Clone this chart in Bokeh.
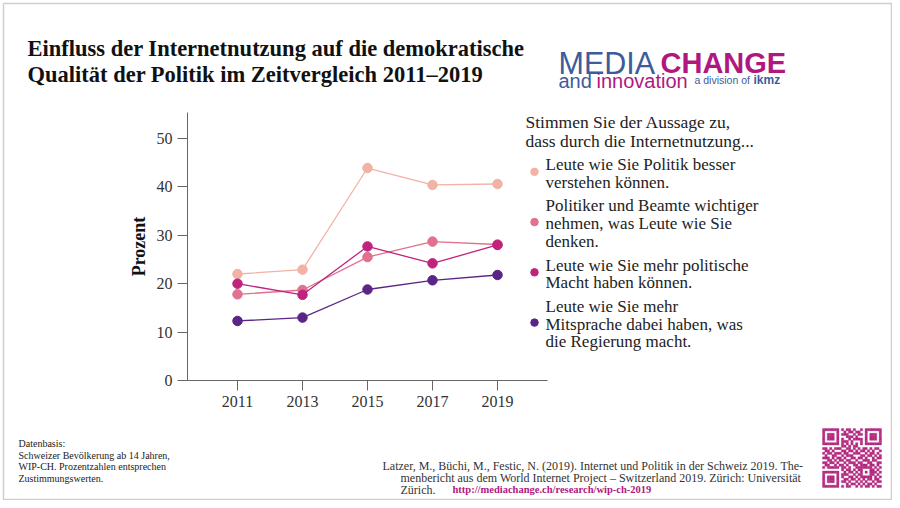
from bokeh.plotting import figure
from bokeh.models import Range1d, LinearAxis, FixedTicker, Label
from bokeh.embed import file_html
from bokeh.resources import INLINE

# ---------------- data ----------------
years = [2011, 2013, 2015, 2017, 2019]
verstehen = [22.0, 22.9, 43.9, 40.4, 40.6]
wichtiger_nehmen = [17.8, 18.7, 25.5, 28.7, 28.1]
mehr_macht = [20.0, 17.7, 27.7, 24.2, 28.0]
mehr_mitsprache = [12.3, 13.0, 18.8, 20.7, 21.8]
y_ticks = [0, 10, 20, 30, 40, 50]

series_values = [verstehen, wichtiger_nehmen, mehr_macht, mehr_mitsprache]
series_labels = [
    ["Leute wie Sie Politik besser", "verstehen können."],
    ["Politiker und Beamte wichtiger", "nehmen, was Leute wie Sie", "denken."],
    ["Leute wie Sie mehr politische", "Macht haben können."],
    ["Leute wie Sie mehr", "Mitsprache dabei haben, was", "die Regierung macht."],
]
series_colors = ["#f2b3a6", "#e2708f", "#c0237d", "#5b2587"]

title_lines = ["Einfluss der Internetnutzung auf die demokratische",
               "Qualität der Politik im Zeitvergleich 2011\u20132019"]
legend_title = ["Stimmen Sie der Aussage zu,", "dass durch die Internetnutzung..."]
source_left = ["Datenbasis:", "Schweizer Bevölkerung ab 14 Jahren,",
               "WIP-CH. Prozentzahlen entsprechen", "Zustimmungswerten."]
citation = ["Latzer, M., Büchi, M., Festic, N. (2019). Internet und Politik in der Schweiz 2019. The-",
            "menbericht aus dem World Internet Project \u2013 Switzerland 2019. Zürich: Universität",
            "Zürich."]
citation_url = "http://mediachange.ch/research/wip-ch-2019"

qr_fill = [
    "0000000010110100100000000",
    "0000000001011011000000000",
    "0000000011100101100000000",
    "0000000000111010000000000",
    "0000000010010111100000000",
    "0000000011101000100000000",
    "0000000010101010100000000",
    "0000000011010110000000000",
    "1101011100110101011010110",
    "0110100011011010110101001",
    "1011011101100111001011010",
    "0100110010111000110110101",
    "1110101101001101101001011",
    "0011010110110010011101100",
    "1101101001011101100110011",
    "0110010110100110111011010",
    "1011111011010011111110101",
    "0000000010110101100011010",
    "0000000001011010101011101",
    "0000000011100101100011010",
    "0000000010011010111110101",
    "0000000001101101010110110",
    "0000000011010010101001011",
    "0000000000101101010110100",
    "0000000010110010101101011",
]

# ---------------- layout ----------------
W, H = 892, 500
PX_YEAR = 32.5
PX_UNIT = 4.84
X2011_PX = 237
Y0_PX_FROM_BOTTOM = H - 380
x0 = 2011 - X2011_PX / PX_YEAR
y0 = -Y0_PX_FROM_BOTTOM / PX_UNIT
yaxis_x = x0 + 187 / PX_YEAR
xaxis_end = x0 + 547 / PX_YEAR
yaxis_top = 55.4

SERIF = "Liberation Serif"
SANS = "Liberation Sans"


def sy(page_y):
    return H - page_y


p = figure(width=W, height=H, x_range=Range1d(x0, x0 + W / PX_YEAR),
           y_range=Range1d(y0, y0 + H / PX_UNIT), x_axis_type=None, y_axis_type=None,
           output_backend="svg", toolbar_location=None, title=None,
           min_border=0, min_border_left=0, min_border_right=0,
           min_border_top=0, min_border_bottom=0)
p.outline_line_color = None
p.background_fill_color = "white"
p.border_fill_color = "white"
p.extra_x_ranges = {"px": Range1d(0, W)}
p.extra_y_ranges = {"px": Range1d(H, 0)}

# slide border
p.rect([(3 + W - 1) / 2], [(3 + H - 1) / 2], width=W - 4, height=H - 4,
       fill_color=None, line_color="#cfcfcf", line_width=1.5,
       x_range_name="px", y_range_name="px")


def style_axis(ax):
    ax.axis_line_color = "#666666"
    ax.axis_line_width = 1
    ax.major_tick_line_color = "#666666"
    ax.major_tick_out = 10
    ax.major_tick_in = 0
    ax.minor_tick_out = 0
    ax.minor_tick_in = 0
    ax.major_label_text_font = SERIF
    ax.major_label_text_font_size = "16px"
    ax.major_label_text_color = "#333333"
    ax.major_label_standoff = 5


yaxis = LinearAxis(fixed_location=yaxis_x, bounds=(0, yaxis_top),
                   ticker=FixedTicker(ticks=y_ticks), axis_label="Prozent")
style_axis(yaxis)
yaxis.axis_label_text_font = SERIF
yaxis.axis_label_text_font_style = "bold"
yaxis.axis_label_text_font_size = "18px"
yaxis.axis_label_text_color = "#111111"
yaxis.axis_label_standoff = 5
p.add_layout(yaxis, "left")

xaxis = LinearAxis(fixed_location=0, bounds=(yaxis_x, xaxis_end),
                   ticker=FixedTicker(ticks=years))
style_axis(xaxis)
p.add_layout(xaxis, "below")

for vals, col in zip(series_values, series_colors):
    p.line(years, vals, line_color=col, line_width=1.3)
    p.scatter(years, vals, size=9.5, fill_color=col, line_color=col)


def label(text, page_x, page_y, size, font=SERIF, style="normal", color="#111111",
          baseline="middle"):
    p.add_layout(Label(x=page_x, y=sy(page_y), x_units="screen", y_units="screen",
                       text=text, text_font=font, text_font_size=size,
                       text_font_style=style, text_color=color,
                       text_baseline=baseline, text_align="left"))


# title
for i, t in enumerate(title_lines):
    label(t, 27, 48 + 26 * i, "22.5px", style="bold")

# logo
BLUE = "#3e5b9c"
MAG = "#b0187f"
label("MEDIA", 558, 62, "30.5px", font=SANS, color=BLUE, baseline="alphabetic")
label("CHANGE", 660, 62, "29px", font=SANS, style="bold", color=MAG, baseline="alphabetic")
label("and", 558, 80, "20px", font=SANS, color=BLUE, baseline="alphabetic")
label("innovation", 596, 80, "20px", font=SANS, color=MAG, baseline="alphabetic")
label("a division of", 694, 79, "10.5px", font=SANS, color=BLUE, baseline="alphabetic")
label("ikmz", 753, 79, "12px", font=SANS, style="bold", color=BLUE, baseline="alphabetic")

# legend
for i, t in enumerate(legend_title):
    label(t, 525, 121 + 19 * i, "17.5px", color="#222222")
LINE_PITCH = 17.7
ITEM_GAP = 6
cur = 164
mark_x, mark_y = [], []
for lines in series_labels:
    centers = [cur + LINE_PITCH * k for k in range(len(lines))]
    for t, c in zip(lines, centers):
        label(t, 545, c, "17px", color="#222222")
    mark_x.append(534)
    mark_y.append(sum(centers) / len(centers) - 1.5)
    cur = centers[-1] + LINE_PITCH + ITEM_GAP
p.scatter(mark_x, mark_y, size=7.5, fill_color=series_colors, line_color=series_colors,
          x_range_name="px", y_range_name="px")

# footers
for i, t in enumerate(source_left):
    label(t, 18, 443 + 11.5 * i, "10px", color="#222222")
label(citation[0], 382, 465, "12px", color="#333333")
label(citation[1], 400, 477, "12px", color="#333333")
label(citation[2], 400, 489, "12px", color="#333333")
label(citation_url, 452, 489, "10.5px", style="bold", color=MAG)

# QR code (decorative)
N = 25
grid = [[ch == "1" for ch in row.ljust(N, "0")[:N]] for row in qr_fill]
for (r0, c0) in [(0, 0), (0, N - 7), (N - 7, 0)]:
    for dr in range(-1, 8):
        for dc in range(-1, 8):
            r, c = r0 + dr, c0 + dc
            if 0 <= r < N and 0 <= c < N:
                inside = 0 <= dr <= 6 and 0 <= dc <= 6
                dark = inside and (dr in (0, 6) or dc in (0, 6) or (2 <= dr <= 4 and 2 <= dc <= 4))
                grid[r][c] = dark
for k in range(8, N - 8):
    grid[6][k] = (k % 2 == 0)
    grid[k][6] = (k % 2 == 0)
for dr in range(-2, 3):
    for dc in range(-2, 3):
        grid[18 + dr][18 + dc] = max(abs(dr), abs(dc)) != 1
QR_LEFT, QR_TOP, QR_SIZE = 822, 428, 59
m = QR_SIZE / N
qx, qy = [], []
for r in range(N):
    for c in range(N):
        if grid[r][c]:
            qx.append(QR_LEFT + (c + 0.5) * m)
            qy.append(QR_TOP + (r + 0.5) * m)
p.rect(qx, qy, width=m, height=m, fill_color="#b3287f", line_color="#b3287f",
       line_width=0.3, x_range_name="px", y_range_name="px")

open("out.html", "w").write(file_html(p, INLINE))
